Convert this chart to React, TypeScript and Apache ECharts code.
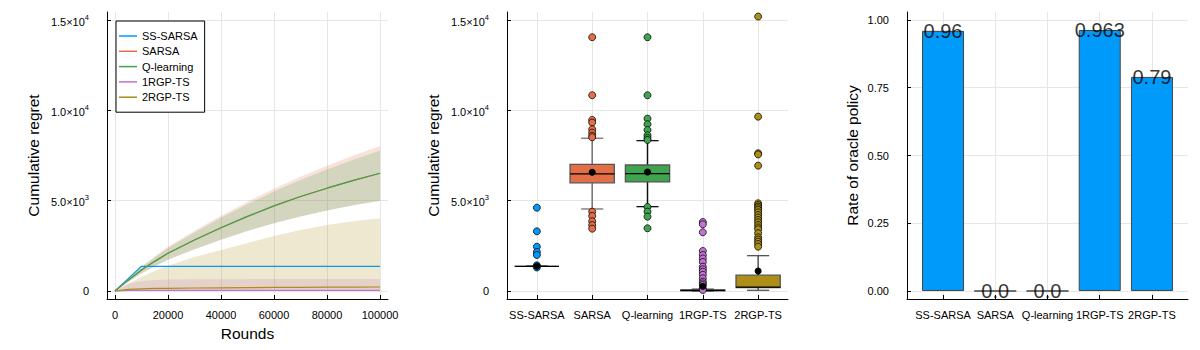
import React, { useEffect, useRef } from "react";
import * as echarts from "echarts";

// ---------- data ----------
const methods = ["SS-SARSA", "SARSA", "Q-learning", "1RGP-TS", "2RGP-TS"];
const colors = ["#009AFA", "#E36F47", "#3EA44E", "#C371D2", "#AC8E18"];

const rounds = [0, 5000, 10000, 15000, 20000, 30000, 40000, 50000, 60000, 70000, 80000, 90000, 100000];
const ssSarsaMean = [0, 684, 1368, 1368, 1368, 1368, 1368, 1368, 1368, 1368, 1368, 1368, 1368];
const sarsaMean = [0, 600, 1160, 1640, 2090, 2820, 3500, 4130, 4710, 5230, 5690, 6120, 6515];
const sarsaUpper = [0, 700, 1350, 1915, 2446, 3330, 4160, 4940, 5666, 6330, 6930, 7500, 8030];
const sarsaLower = [0, 500, 970, 1365, 1734, 2310, 2840, 3320, 3754, 4130, 4450, 4740, 5000];
const qMean = [0, 600, 1160, 1640, 2090, 2820, 3500, 4130, 4710, 5230, 5690, 6120, 6515];
const qUpper = [0, 683, 1318, 1868, 2385, 3243, 4048, 4802, 5503, 6143, 6719, 7265, 7773];
const qLower = [0, 500, 970, 1365, 1734, 2310, 2840, 3320, 3754, 4130, 4450, 4740, 5000];
const rgp1Mean = [0, 30, 35, 36, 37, 37, 37, 37, 37, 37, 37, 37, 37];
const rgp1Upper = [0, 400, 560, 610, 630, 645, 652, 657, 660, 662, 664, 665, 665];
const rgp1Lower = [0, 0, 0, 0, 0, 0, 0, 0, 0, 0, 0, 0, 0];
const rgp2Mean = [0, 90, 120, 140, 150, 165, 175, 185, 195, 203, 210, 216, 221];
const rgp2Upper = [0, 420, 780, 1100, 1400, 1880, 2270, 2650, 3045, 3370, 3654, 3860, 4025];
const rgp2Lower = [0, 0, 0, 0, 0, 0, 0, 0, 0, 0, 0, 0, 0];

const roundTicks = [0, 20000, 40000, 60000, 80000, 100000];
const regretTicks = [0, 5000, 10000, 15000];

// boxplot: [lower whisker, Q1, median, Q3, upper whisker]
const boxStats = [
  [1368, 1368, 1368, 1368, 1368],
  [4540, 5990, 6478, 7010, 8455],
  [4668, 6035, 6500, 6975, 8322],
  [0, 15, 39, 55, 100],
  [39, 183, 215, 875, 1955],
];
const boxMeans = [1375, 6572, 6589, 260, 1107];
const ssOutliers = [4612, 3305, 2453, 2160, 1993, 1420, 1300];
const sarsaOutliers = [14047, 10836, 9468, 9320, 8953, 8767, 8600, 8510, 4391, 4153, 3859, 3650, 3450];
const qOutliers = [14047, 10836, 9540, 9230, 8915, 8620, 8472, 8361, 4650, 4391, 4114, 3472];
const rgp1Outliers = [3820, 3692, 3250, 2215, 1993, 1800, 1606, 1347, 1200, 1069, 900, 701, 517, 420, 332, 150, 55];
const rgp2Outliers = [15189, 9651, 7624, 7560, 6938, 4856, 4760, 4668, 4580, 4485, 4350, 4208, 4070, 3931, 3800, 3654, 3520, 3416, 3200, 2973, 2850, 2730, 2600, 2453];
const outliers = [ssOutliers, sarsaOutliers, qOutliers, rgp1Outliers, rgp2Outliers];
const whiskerColors = ["#333333", "#707070", "#111111", "#333333", "#555555"];

const oracleRates = [0.96, 0.0, 0.0, 0.963, 0.79];
const oracleLabels = ["0.96", "0.0", "0.0", "0.963", "0.79"];
const rateTicks = [0, 0.25, 0.5, 0.75, 1.0];

// ---------- helpers ----------
const FONT = "Liberation Sans";

function sciLabel(v: number): string {
  if (v === 0) return "0";
  const e = Math.floor(Math.log10(v) + 1e-9);
  const m = (v / Math.pow(10, e)).toFixed(1);
  return `{b|${m}×10}{s|${e}}`;
}

function rgba(hex: string, a: number) {
  const r = parseInt(hex.slice(1, 3), 16);
  const g = parseInt(hex.slice(3, 5), 16);
  const b = parseInt(hex.slice(5, 7), 16);
  return `rgba(${r},${g},${b},${a})`;
}

const gridLine = { show: true, lineStyle: { color: "#e6e6e6", width: 1 } };
const axisLineBlack = { show: true, onZero: false, lineStyle: { color: "#000", width: 1 } };
const tickInside = { show: true, inside: true, length: 4, lineStyle: { color: "#000" } };

function bandSeries(id: string, lower: number[], upper: number[], color: string) {
  return {
    type: "custom",
    name: id + "-band",
    xAxisIndex: 0,
    yAxisIndex: 0,
    silent: true,
    data: rounds.map((x, i) => [x, lower[i], upper[i]]),
    encode: { x: 0, y: [1, 2] },
    renderItem: (params: any, api: any) => {
      if (params.dataIndex !== 0) return null;
      const pts: number[][] = [];
      for (let i = 0; i < rounds.length; i++) pts.push(api.coord([rounds[i], upper[i]]));
      for (let i = rounds.length - 1; i >= 0; i--) pts.push(api.coord([rounds[i], lower[i]]));
      return {
        type: "polygon",
        shape: { points: pts },
        style: { fill: rgba(color, 0.2), stroke: "none" },
      };
    },
  };
}

function meanLine(name: string, data: number[], color: string) {
  return {
    type: "line",
    name,
    xAxisIndex: 0,
    yAxisIndex: 0,
    data: rounds.map((x, i) => [x, data[i]]),
    showSymbol: false,
    smooth: false,
    lineStyle: { color, width: 1.2 },
    itemStyle: { color },
    silent: true,
  };
}

export default function App() {
  const ref = useRef<HTMLDivElement>(null);

  useEffect(() => {
    if (!ref.current) return;
    const chart = echarts.init(ref.current, null, { renderer: "svg" });

    const tickLabel = { fontFamily: FONT, fontSize: 11, color: "#000" };
    const nameStyle = { fontFamily: FONT, fontSize: 15.5, color: "#000" };
    const sciRich = {
      b: { fontFamily: FONT, fontSize: 11, color: "#000", verticalAlign: "bottom" },
      s: { fontFamily: FONT, fontSize: 7.5, color: "#000", verticalAlign: "top", padding: [0, 0, 6, 0] },
    };

    const option: any = {
      animation: false,
      backgroundColor: "#fff",
      textStyle: { fontFamily: FONT },
      grid: [
        { left: 107, top: 12, width: 281, height: 287 },
        { left: 507, top: 12, width: 281, height: 287 },
        { left: 907, top: 12, width: 281, height: 287 },
      ],
      legend: {
        data: methods.map((m, i) => ({ name: m, icon: "rect", itemStyle: { color: colors[i] } })),
        orient: "vertical",
        left: 116,
        top: 21,
        itemWidth: 18,
        itemHeight: 1.5,
        itemGap: 4.3,
        padding: [9.5, 7, 9.5, 3],
        borderColor: "#000",
        borderWidth: 1,
        backgroundColor: "#fff",
        selectedMode: false,
        textStyle: { fontFamily: FONT, fontSize: 11, color: "#000" },
      },
      xAxis: [
        {
          gridIndex: 0,
          type: "value",
          min: -3000,
          max: 103000,
          name: "Rounds",
          nameLocation: "middle",
          nameGap: 26,
          nameTextStyle: nameStyle,
          axisLine: axisLineBlack,
          axisTick: { ...tickInside, customValues: roundTicks },
          axisLabel: { ...tickLabel, margin: 10, customValues: roundTicks, formatter: (v: number) => String(v) },
          splitLine: gridLine,
        },
        {
          gridIndex: 1,
          type: "value",
          min: -0.54,
          max: 4.54,
          axisLine: axisLineBlack,
          axisTick: { ...tickInside, customValues: [0, 1, 2, 3, 4] },
          axisLabel: {
            ...tickLabel,
            margin: 10,
            customValues: [0, 1, 2, 3, 4],
            formatter: (v: number) => methods[Math.round(v)] ?? "",
          },
          splitLine: gridLine,
        },
        {
          gridIndex: 2,
          type: "value",
          min: -0.69,
          max: 4.69,
          axisLine: axisLineBlack,
          axisTick: { ...tickInside, customValues: [0, 1, 2, 3, 4] },
          axisLabel: {
            ...tickLabel,
            margin: 10,
            customValues: [0, 1, 2, 3, 4],
            formatter: (v: number) => methods[Math.round(v)] ?? "",
          },
          splitLine: gridLine,
        },
      ],
      yAxis: [
        {
          gridIndex: 0,
          type: "value",
          min: -443,
          max: 15443,
          name: "Cumulative regret",
          nameLocation: "middle",
          nameGap: 66,
          nameTextStyle: nameStyle,
          axisLine: axisLineBlack,
          axisTick: { ...tickInside, customValues: regretTicks },
          axisLabel: { ...tickLabel, margin: 18, customValues: regretTicks, formatter: sciLabel, rich: sciRich },
          splitLine: gridLine,
        },
        {
          gridIndex: 1,
          type: "value",
          min: -443,
          max: 15443,
          name: "Cumulative regret",
          nameLocation: "middle",
          nameGap: 66,
          nameTextStyle: nameStyle,
          axisLine: axisLineBlack,
          axisTick: { ...tickInside, customValues: regretTicks },
          axisLabel: { ...tickLabel, margin: 18, customValues: regretTicks, formatter: sciLabel, rich: sciRich },
          splitLine: gridLine,
        },
        {
          gridIndex: 2,
          type: "value",
          min: -0.0295,
          max: 1.0295,
          name: "Rate of oracle policy",
          nameLocation: "middle",
          nameGap: 47,
          nameTextStyle: nameStyle,
          axisLine: axisLineBlack,
          axisTick: { ...tickInside, customValues: rateTicks },
          axisLabel: { ...tickLabel, margin: 18, customValues: rateTicks, formatter: (v: number) => v.toFixed(2) },
          splitLine: gridLine,
        },
      ],
      series: [
        // bands
        bandSeries("sarsa", sarsaLower, sarsaUpper, colors[1]),
        bandSeries("q", qLower, qUpper, colors[2]),
        bandSeries("rgp1", rgp1Lower, rgp1Upper, colors[3]),
        bandSeries("rgp2", rgp2Lower, rgp2Upper, colors[4]),
        // mean lines
        meanLine(methods[0], ssSarsaMean, colors[0]),
        meanLine(methods[1], sarsaMean, colors[1]),
        meanLine(methods[2], qMean, colors[2]),
        meanLine(methods[3], rgp1Mean, colors[3]),
        meanLine(methods[4], rgp2Mean, colors[4]),
        // boxplots
        {
          type: "custom",
          name: "boxes",
          xAxisIndex: 1,
          yAxisIndex: 1,
          silent: true,
          data: boxStats.map((s, i) => [i, ...s]),
          encode: { x: 0, y: [1, 2, 3, 4, 5] },
          renderItem: (params: any, api: any) => {
            const i = api.value(0);
            const lo = api.value(1);
            const q1 = api.value(2);
            const med = api.value(3);
            const q3 = api.value(4);
            const hi = api.value(5);
            const w = api.size([0.8, 0])[0];
            const cw = w / 2;
            const pLo = api.coord([i, lo]);
            const pQ1 = api.coord([i, q1]);
            const pMed = api.coord([i, med]);
            const pQ3 = api.coord([i, q3]);
            const pHi = api.coord([i, hi]);
            const cx = pMed[0];
            const wc = whiskerColors[i];
            return {
              type: "group",
              children: [
                { type: "line", shape: { x1: cx, y1: pLo[1], x2: cx, y2: pQ1[1] }, style: { stroke: wc, lineWidth: 1.5 } },
                { type: "line", shape: { x1: cx, y1: pQ3[1], x2: cx, y2: pHi[1] }, style: { stroke: wc, lineWidth: 1.5 } },
                { type: "line", shape: { x1: cx - cw / 2, y1: pLo[1], x2: cx + cw / 2, y2: pLo[1] }, style: { stroke: wc, lineWidth: 1.3 } },
                { type: "line", shape: { x1: cx - cw / 2, y1: pHi[1], x2: cx + cw / 2, y2: pHi[1] }, style: { stroke: wc, lineWidth: 1.3 } },
                {
                  type: "rect",
                  shape: { x: cx - w / 2, y: pQ3[1], width: w, height: pQ1[1] - pQ3[1] },
                  style: { fill: colors[i], stroke: "#555", lineWidth: 1.3 },
                },
                { type: "line", shape: { x1: cx - w / 2, y1: pMed[1], x2: cx + w / 2, y2: pMed[1] }, style: { stroke: "#000", lineWidth: 1.3 } },
              ],
            };
          },
        },
        ...outliers.map((arr, i) => ({
          type: "scatter",
          name: "out-" + i,
          xAxisIndex: 1,
          yAxisIndex: 1,
          silent: true,
          symbol: "circle",
          symbolSize: 7,
          data: arr.map((v) => [i, v]),
          itemStyle: { color: colors[i], borderColor: "rgba(0,0,0,0.75)", borderWidth: 1, opacity: 1 },
        })),
        {
          type: "scatter",
          name: "means",
          xAxisIndex: 1,
          yAxisIndex: 1,
          silent: true,
          symbol: "circle",
          symbolSize: 7,
          data: boxMeans.map((v, i) => [i, v]),
          itemStyle: { color: "#000", opacity: 1 },
        },
        // bars
        {
          type: "bar",
          name: "oracle",
          xAxisIndex: 2,
          yAxisIndex: 2,
          silent: true,
          barWidth: 42,
          data: oracleRates.map((v, i) => [i, v]),
          itemStyle: { color: "#009AFA", borderColor: "#444", borderWidth: 1 },
        },
        {
          type: "scatter",
          name: "oracle-labels",
          xAxisIndex: 2,
          yAxisIndex: 2,
          silent: true,
          symbolSize: 1,
          data: oracleRates.map((v, i) => [i, v]),
          itemStyle: { color: "rgba(0,0,0,0)" },
          label: {
            show: true,
            position: "inside",
            fontFamily: FONT,
            fontSize: 20,
            color: "#000",
            formatter: (p: any) => oracleLabels[p.dataIndex],
          },
        },
      ],
    };

    chart.setOption(option);
    return () => chart.dispose();
  }, []);

  return <div ref={ref} style={{ position: "fixed", left: 0, top: 0, width: 1200, height: 350 }} />;
}
